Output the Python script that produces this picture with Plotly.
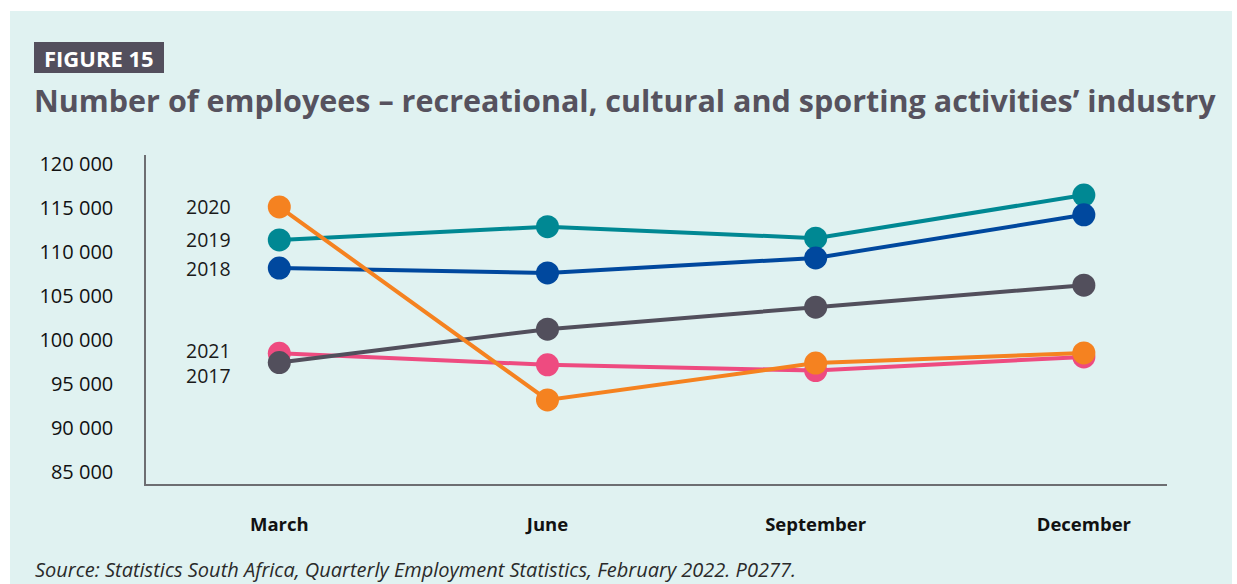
import plotly.graph_objects as go

# Quarterly employee counts, recreational, cultural and sporting activities
quarters = ["March", "June", "September", "December"]
years = ["2021", "2017", "2019", "2018", "2020"]
values = {
    "2017": [97400, 101200, 103700, 106200],
    "2018": [108150, 107600, 109300, 114200],
    "2019": [111350, 112850, 111550, 116450],
    "2020": [115100, 93150, 97350, 98500],
    "2021": [98450, 97150, 96500, 98050],
}
colors = {
    "2017": "#524f5c",
    "2018": "#00489e",
    "2019": "#008893",
    "2020": "#f58220",
    "2021": "#ee4b80",
}
# vertical nudge (px) for series labels that would collide
label_shift = {"2017": -13, "2018": 0, "2019": 0, "2020": 0, "2021": 3}
y_ticks = [85000, 90000, 95000, 100000, 105000, 110000, 115000, 120000]
y_tick_text = ["85 000", "90 000", "95 000", "100 000", "105 000", "110 000", "115 000", "120 000"]

W, H = 1237, 584
L, R, T, B = 146, 70, 155, 100
PW, PH = W - L - R, H - T - B


def px_x(px):
    return (px - L) / PW


def px_y(py):
    return (H - B - py) / PH


FONT = "Open Sans"
xs = list(range(len(quarters)))

fig = go.Figure()
for yr in years:
    fig.add_trace(go.Scatter(
        x=xs, y=values[yr], mode="lines+markers", name=yr,
        line=dict(color=colors[yr], width=4),
        marker=dict(color=colors[yr], size=23),
        showlegend=False,
    ))
    fig.add_annotation(
        x=0, y=values[yr][0], xref="x", yref="y", text=yr, showarrow=False,
        xanchor="right", yanchor="middle", xshift=-47, yshift=label_shift[yr],
        borderpad=0,
        font=dict(family=FONT, size=19.5, color="#1a1a1a"),
    )

# background panel and figure tag
fig.add_shape(type="rect", xref="paper", yref="paper", layer="below",
              x0=px_x(10), x1=px_x(1232), y0=px_y(584), y1=px_y(11),
              fillcolor="#e0f2f1", line=dict(width=0))
fig.add_shape(type="rect", xref="paper", yref="paper",
              x0=px_x(34), x1=px_x(164), y0=px_y(73), y1=px_y(42),
              fillcolor="#534f5d", line=dict(width=0))
fig.add_annotation(x=px_x(99), y=px_y(57.5), xref="paper", yref="paper",
                   text="<b>FIGURE 15</b>", showarrow=False,
                   xanchor="center", yanchor="middle",
                   font=dict(family=FONT, size=22, color="white"))
fig.add_annotation(x=px_x(32), y=px_y(100), xref="paper", yref="paper",
                   text="<b>Number of employees – recreational, cultural and sporting activities’ industry</b>",
                   showarrow=False, xanchor="left", yanchor="middle",
                   font=dict(family=FONT, size=30.5, color="#56525e"))
fig.add_annotation(x=px_x(33), y=px_y(569), xref="paper", yref="paper",
                   text="<i>Source: Statistics South Africa, Quarterly Employment Statistics, February 2022. P0277.</i>",
                   showarrow=False, xanchor="left", yanchor="middle",
                   font=dict(family=FONT, size=20, color="#2a2a2a"))

fig.update_layout(
    width=W, height=H,
    margin=dict(l=L, r=R, t=T, b=B),
    paper_bgcolor="white", plot_bgcolor="rgba(0,0,0,0)",
    font=dict(family=FONT, color="#1a1a1a"),
)
fig.update_xaxes(
    range=[-0.497, 3.31], tickmode="array", tickvals=xs,
    ticktext=[f"<b>{q}</b>" for q in quarters],
    showgrid=False, zeroline=False, showline=True,
    linecolor="#6d6e72", linewidth=1.5,
    ticks="", ticklabelstandoff=23,
    tickfont=dict(family=FONT, size=18.5, color="#111111"),
)
fig.update_yaxes(
    range=[83600, 121000], tickmode="array", tickvals=y_ticks, ticktext=y_tick_text,
    showgrid=False, zeroline=False, showline=True,
    linecolor="#6d6e72", linewidth=1.5,
    ticks="", ticklabelstandoff=27,
    tickfont=dict(family=FONT, size=20, color="#111111"),
)

fig.write_html("out.html")
